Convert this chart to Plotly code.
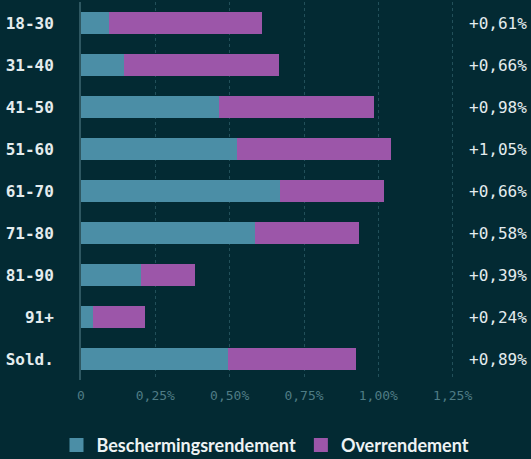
import plotly.graph_objects as go

categories = ["18-30", "31-40", "41-50", "51-60", "61-70", "71-80", "81-90", "91+", "Sold."]
bescherming = [0.094, 0.145, 0.465, 0.524, 0.668, 0.585, 0.202, 0.040, 0.493]
overrendement = [0.514, 0.521, 0.520, 0.518, 0.350, 0.349, 0.181, 0.175, 0.431]
value_labels = ["+0,61%", "+0,66%", "+0,98%", "+1,05%", "+0,66%", "+0,58%", "+0,39%", "+0,24%", "+0,89%"]
series_names = ["Beschermingsrendement", "Overrendement"]
tick_vals = [0, 0.25, 0.5, 0.75, 1.0, 1.25]
tick_text = ["0", "0,25%", "0,50%", "0,75%", "1,00%", "1,25%"]

BG = "#032a33"
TEAL = "#4b8ea6"
PURPLE = "#9c56a9"
mono = "DejaVu Sans Mono"

fig = go.Figure()
for name, vals, col in zip(series_names, [bescherming, overrendement], [TEAL, PURPLE]):
    fig.add_trace(go.Bar(y=categories, x=vals, orientation="h", name=name, showlegend=False,
                         marker=dict(color=col, line=dict(width=0))))
    # legend entry with a larger square swatch
    fig.add_trace(go.Scatter(x=[None], y=[None], mode="markers", name=name,
                             marker=dict(symbol="square", size=14, color=col)))

for cat, lab in zip(categories, value_labels):
    fig.add_annotation(x=1, xref="paper", y=cat, yref="y", text=lab, showarrow=False,
                       xanchor="right", yanchor="middle", xshift=2,
                       font=dict(family=mono, size=16, color="#e4ecee"))

fig.update_layout(
    width=531, height=459,
    barmode="stack", bargap=0.456,
    paper_bgcolor=BG, plot_bgcolor=BG,
    margin=dict(l=81, r=4, t=2, b=79),
    showlegend=True,
    legend=dict(orientation="h", x=0.5, xanchor="center", xref="container",
                y=0.03, yanchor="middle", yref="container",
                font=dict(family="Lato", size=18, color="#eef3f4", weight="bold"),
                itemclick=False, traceorder="normal", itemsizing="trace"),
    xaxis=dict(range=[0, 1.5], tickvals=tick_vals, ticktext=tick_text,
               showgrid=True, gridcolor="#22505a", griddash="dot", gridwidth=1,
               zeroline=False, showline=False, ticklabelstandoff=6,
               tickfont=dict(family=mono, size=13, color="#4f7c85")),
    yaxis=dict(categoryorder="array", categoryarray=categories, autorange="reversed",
               showgrid=False, zeroline=False, showline=True, linecolor="#2e5761", linewidth=2,
               ticklabelstandoff=22,
               tickfont=dict(family=mono, size=16, color="#e4ecee", weight="bold")),
)

fig.write_html("out.html", config={"displayModeBar": False},
               post_script="document.body.style.margin='0';document.body.style.background='" + BG + "';")
